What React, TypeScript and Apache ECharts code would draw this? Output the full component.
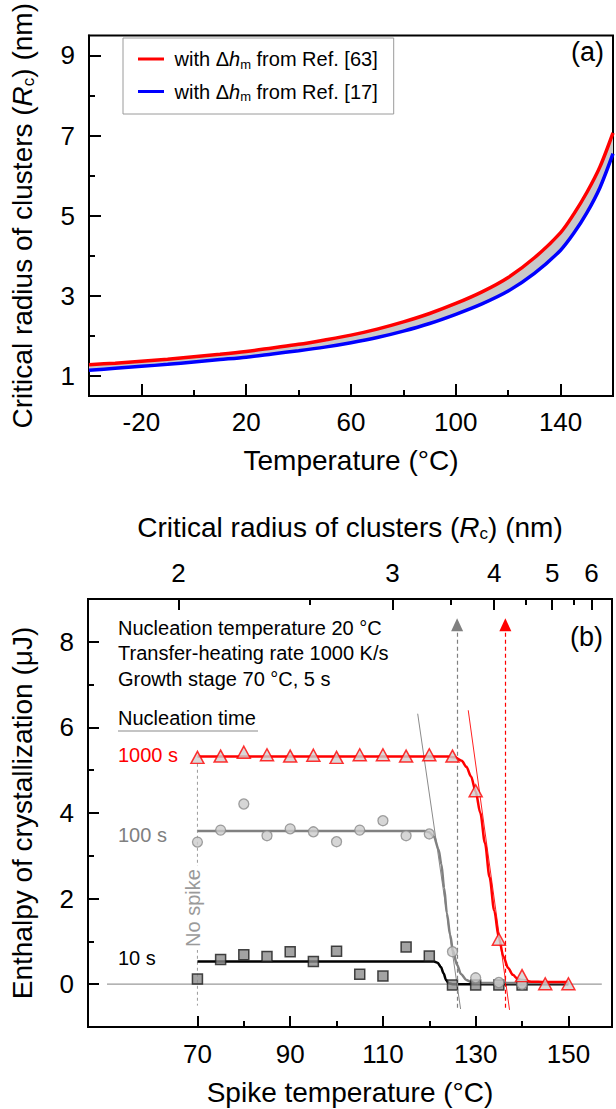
import React, { useEffect, useRef } from 'react';
import * as echarts from 'echarts';

const FONT = '"Liberation Sans", Arial, Helvetica, sans-serif';

// ---------- Panel (a): critical radius vs temperature ----------
const tempA = [-40, -30, -20, -10, 0, 10, 20, 30, 40, 50, 60, 70, 80, 90, 100, 110, 120, 130, 140, 145, 150, 155, 160];
const rcRef63 = [1.28, 1.32, 1.37, 1.42, 1.48, 1.54, 1.61, 1.70, 1.79, 1.90, 2.02, 2.17, 2.35, 2.56, 2.81, 3.10, 3.46, 3.95, 4.58, 5.04, 5.58, 6.22, 7.07];
const rcRef17 = [1.14, 1.19, 1.24, 1.29, 1.35, 1.41, 1.47, 1.55, 1.63, 1.72, 1.83, 1.96, 2.12, 2.31, 2.54, 2.80, 3.12, 3.56, 4.14, 4.56, 5.07, 5.70, 6.55];
const ticksAX = [-20, 20, 60, 100, 140];
const minorAX = [0, 40, 80, 120];
const ticksAY = [1, 3, 5, 7, 9];
const minorAY = [2, 4, 6, 8];

// ---------- Panel (b): enthalpy vs spike temperature ----------
const spikeT = [70, 75, 80, 85, 90, 95, 100, 105, 110, 115, 120, 125, 130, 135, 140, 145, 150];
const h1000s = [5.30, 5.33, 5.42, 5.36, 5.33, 5.35, 5.30, 5.36, 5.36, 5.33, 5.36, 5.33, 4.52, 1.05, 0.20, 0.01, 0.01];
const spikeT2 = [70, 75, 80, 85, 90, 95, 100, 105, 110, 115, 120, 125, 130, 135, 140];
const h100s = [3.32, 3.60, 4.21, 3.47, 3.63, 3.56, 3.33, 3.60, 3.82, 3.47, 3.51, 0.76, 0.15, 0.04, 0.0];
const h10s = [0.12, 0.58, 0.69, 0.65, 0.76, 0.53, 0.77, 0.23, 0.19, 0.87, 0.66, -0.02, -0.02, -0.02, -0.02];

const fit1000T = [70, 124, 125.5, 127, 128, 129, 130, 131, 132, 133, 134, 135, 136, 137, 138, 139, 140, 142, 145, 150];
const fit1000H = [5.32, 5.32, 5.30, 5.22, 5.08, 4.85, 4.50, 4.00, 3.30, 2.50, 1.72, 1.08, 0.64, 0.38, 0.22, 0.13, 0.09, 0.06, 0.05, 0.05];
const fit100T = [70, 119, 120, 121, 122, 122.6, 123.2, 123.8, 124.5, 125.1, 126, 126.8, 128, 129, 131, 150];
const fit100H = [3.58, 3.58, 3.55, 3.45, 3.15, 2.80, 2.25, 1.65, 1.15, 0.78, 0.45, 0.24, 0.10, 0.05, 0.03, 0.03];
const fit10T = [70, 121, 121.8, 122.5, 123.1, 123.6, 124.2, 125, 150];
const fit10H = [0.53, 0.53, 0.50, 0.40, 0.25, 0.10, 0.02, 0.0, 0.0];

const tangent100 = [[117.5, 6.32], [126.75, -0.58]];
const tangent1000 = [[128.4, 6.4], [137.3, -0.6]];
const arrowTemps = [126, 136.4];
const arrowColors = ['#808080', '#ff0000'];
const arrowFrom = -0.55;
const arrowTo = 8.4;
const noSpikeLine = [[70, 5.15], [70, -0.5]];
const baseline = [[50.5, 0], [157.2, 0]];

const ticksBX = [70, 90, 110, 130, 150];
const minorBX = [80, 100, 120, 140];
const ticksBY = [0, 2, 4, 6, 8];
const minorBY = [1, 3, 5, 7];
// top axis: critical radius labels placed at the corresponding spike temperatures
const rcTickLabels = ['2', '3', '4', '5', '6'];
const rcTickTemps = [65.9, 112.05, 134.0, 146.5, 155.0];
const rcMinorTemps = [94.25, 124.6, 140.9, 151.1];

const zip = (a: number[], b: number[]) => a.map((v, i) => [v, b[i]]);

const majorAxis = (extra: any) => ({
  type: 'value',
  axisLine: { show: true, onZero: false, lineStyle: { color: '#000', width: 2 } },
  splitLine: { show: false },
  ...extra,
});
const minorAxis = (extra: any, values: number[]) => ({
  type: 'value',
  axisLine: { show: false, onZero: false },
  splitLine: { show: false },
  axisLabel: { show: false },
  axisTick: { show: true, inside: true, length: 6, customValues: values, lineStyle: { color: '#000', width: 2 } },
  ...extra,
});

export default function App() {
  const ref = useRef<HTMLDivElement>(null);
  useEffect(() => {
    if (!ref.current) return;
    const chart = echarts.init(ref.current, null, { renderer: 'svg' });

    const legendRich = {
      n: { fontSize: 20, fontFamily: FONT, color: '#000' },
      i: { fontSize: 20, fontFamily: FONT, fontStyle: 'italic', color: '#000' },
      s: { fontSize: 13, fontFamily: FONT, color: '#000', padding: [10, 0, 0, 0] },
    };
    const mkNameStyle = (size: number) => ({
      fontSize: size, fontFamily: FONT, color: '#000',
      rich: {
        i: { fontSize: size, fontFamily: FONT, fontStyle: 'italic', color: '#000' },
        s: { fontSize: Math.round(size * 0.62), fontFamily: FONT, color: '#000', padding: [Math.round(size * 0.45), 0, 0, 0] },
      },
    });
    const tickLabel = (margin: number, values: number[]) => ({
      color: '#000', fontSize: 26, fontFamily: FONT, margin, customValues: values,
    });
    const tick = (len: number, values: number[]) => ({
      show: true, inside: true, length: len, customValues: values, lineStyle: { color: '#000', width: 2 },
    });

    const option: any = {
      animation: false,
      backgroundColor: '#fff',
      grid: [
        { left: 82, top: 15, width: 531, height: 381, show: true, borderColor: '#000', borderWidth: 2, backgroundColor: 'transparent' },
        { left: 82, top: 599, width: 530, height: 428, show: true, borderColor: '#000', borderWidth: 2, backgroundColor: 'transparent' },
      ],
      legend: {
        show: true,
        data: ['ref63', 'ref17'],
        orient: 'vertical',
        left: 123,
        top: 38,
        borderColor: '#9a9a9a',
        borderWidth: 1,
        padding: [11, 16, 11, 15],
        itemGap: 11,
        itemWidth: 26,
        itemHeight: 3,
        icon: 'rect',
        textStyle: { fontSize: 20, fontFamily: FONT, color: '#000', rich: legendRich },
        formatter: (name: string) =>
          name === 'ref63'
            ? '{n| with }{n|\u0394}{i|h}{s|m}{n| from Ref. [63]}'
            : '{n| with }{n|\u0394}{i|h}{s|m}{n| from Ref. [17]}',
      },
      xAxis: [
        majorAxis({
          gridIndex: 0, position: 'bottom', min: -40, max: 160,
          axisTick: tick(12, ticksAX), axisLabel: tickLabel(13, ticksAX),
          name: 'Temperature (\u00b0C)', nameLocation: 'middle', nameGap: 50, nameTextStyle: mkNameStyle(28),
        }),
        minorAxis({ gridIndex: 0, position: 'bottom', min: -40, max: 160 }, minorAX),
        majorAxis({
          gridIndex: 1, position: 'bottom', min: 46.4, max: 159.4,
          axisTick: tick(11, ticksBX), axisLabel: tickLabel(14, ticksBX),
          name: 'Spike temperature (\u00b0C)', nameLocation: 'middle', nameGap: 51, nameTextStyle: mkNameStyle(28),
        }),
        minorAxis({ gridIndex: 1, position: 'bottom', min: 46.4, max: 159.4 }, minorBX),
        majorAxis({
          gridIndex: 1, position: 'top', min: 46.4, max: 159.4,
          axisTick: tick(11, rcTickTemps),
          axisLabel: {
            ...tickLabel(13, rcTickTemps),
            formatter: (v: number) => {
              const i = rcTickTemps.findIndex((t) => Math.abs(t - v) < 1e-6);
              return i >= 0 ? rcTickLabels[i] : '';
            },
          },
          name: 'Critical radius of clusters ({i|R}{s|c}) (nm)', nameLocation: 'middle', nameGap: 57, nameTextStyle: mkNameStyle(28),
        }),
        minorAxis({ gridIndex: 1, position: 'top', min: 46.4, max: 159.4 }, rcMinorTemps),
      ],
      yAxis: [
        majorAxis({
          gridIndex: 0, position: 'left', min: 0.5, max: 9.5,
          axisTick: tick(12, ticksAY), axisLabel: tickLabel(14, ticksAY),
          name: 'Critical radius of clusters ({i|R}{s|c}) (nm)', nameLocation: 'middle', nameGap: 52, nameRotate: 90, nameTextStyle: mkNameStyle(28),
        }),
        minorAxis({ gridIndex: 0, position: 'left', min: 0.5, max: 9.5 }, minorAY),
        majorAxis({
          gridIndex: 1, position: 'left', min: -1, max: 9,
          axisTick: tick(11, ticksBY), axisLabel: tickLabel(14, ticksBY),
          name: 'Enthalpy of crystallization (\u03bcJ)', nameLocation: 'middle', nameGap: 52, nameRotate: 90, nameTextStyle: mkNameStyle(28),
        }),
        minorAxis({ gridIndex: 1, position: 'left', min: -1, max: 9 }, minorBY),
      ],
      series: [
        // ---- panel (a): grey band between the two curves
        {
          name: 'band', type: 'custom', xAxisIndex: 0, yAxisIndex: 0, silent: true, z: 1, clip: true,
          data: [[tempA[0], rcRef63[0]]],
          renderItem: (_params: any, api: any) => {
            const top = tempA.map((t, i) => api.coord([t, rcRef63[i]]));
            const bottom = tempA.map((t, i) => api.coord([t, rcRef17[i]])).reverse();
            return { type: 'polygon', shape: { points: top.concat(bottom) }, style: { fill: '#c9c9c9' } };
          },
        },
        {
          name: 'ref63', type: 'line', xAxisIndex: 0, yAxisIndex: 0, smooth: 0.3, data: zip(tempA, rcRef63),
          showSymbol: false, color: '#ff0000', lineStyle: { color: '#ff0000', width: 3.5 }, z: 3,
        },
        {
          name: 'ref17', type: 'line', xAxisIndex: 0, yAxisIndex: 0, smooth: 0.3, data: zip(tempA, rcRef17),
          showSymbol: false, color: '#0000ff', lineStyle: { color: '#0000ff', width: 3.5 }, z: 3,
        },
        // ---- panel (b) guides
        {
          name: 'baseline', type: 'line', xAxisIndex: 2, yAxisIndex: 2, data: baseline, showSymbol: false,
          lineStyle: { color: '#9a9a9a', width: 1.2 }, silent: true, z: 1,
        },
        {
          name: 'noSpike', type: 'line', xAxisIndex: 2, yAxisIndex: 2, data: noSpikeLine, showSymbol: false,
          lineStyle: { color: '#9a9a9a', width: 1, type: [3, 3] }, silent: true, z: 1,
        },
        {
          name: 'tan100', type: 'line', xAxisIndex: 2, yAxisIndex: 2, data: tangent100, showSymbol: false,
          lineStyle: { color: '#8a8a8a', width: 1 }, silent: true, z: 1,
        },
        {
          name: 'tan1000', type: 'line', xAxisIndex: 2, yAxisIndex: 2, data: tangent1000, showSymbol: false,
          lineStyle: { color: '#ff2020', width: 1 }, silent: true, z: 1,
        },
        {
          name: 'arrows', type: 'line', xAxisIndex: 2, yAxisIndex: 2, data: [], silent: true, z: 1,
          markLine: {
            silent: true,
            symbol: ['none', 'triangle'],
            symbolSize: [12, 13],
            label: { show: false },
            data: arrowTemps.map((t, i) => [
              { coord: [t, arrowFrom], lineStyle: { color: arrowColors[i], width: 1.2, type: [4, 3] }, itemStyle: { color: arrowColors[i] } },
              { coord: [t, arrowTo] },
            ]),
          },
        },
        // ---- panel (b) fits
        {
          name: 'fit10', type: 'line', xAxisIndex: 2, yAxisIndex: 2, smooth: 0.3, smoothMonotone: 'x',
          data: zip(fit10T, fit10H), showSymbol: false, lineStyle: { color: '#000', width: 2.5 }, z: 2,
        },
        {
          name: 'fit100', type: 'line', xAxisIndex: 2, yAxisIndex: 2, smooth: 0.3, smoothMonotone: 'x',
          data: zip(fit100T, fit100H), showSymbol: false, lineStyle: { color: '#808080', width: 2.5 }, z: 2,
        },
        {
          name: 'fit1000', type: 'line', xAxisIndex: 2, yAxisIndex: 2, smooth: 0.3, smoothMonotone: 'x',
          data: zip(fit1000T, fit1000H), showSymbol: false, lineStyle: { color: '#ff0000', width: 2.5 }, z: 2,
        },
        // ---- panel (b) measurements
        {
          name: '10 s', type: 'scatter', xAxisIndex: 2, yAxisIndex: 2, data: zip(spikeT2, h10s),
          symbol: 'rect', symbolSize: 10, itemStyle: { color: '#8c8c8c', borderColor: '#1a1a1a', borderWidth: 1.5 }, z: 4,
        },
        {
          name: '100 s', type: 'scatter', xAxisIndex: 2, yAxisIndex: 2, data: zip(spikeT2, h100s),
          symbol: 'circle', symbolSize: 10, itemStyle: { color: '#cccccc', borderColor: '#8a8a8a', borderWidth: 1.3 }, z: 5,
        },
        {
          name: '1000 s', type: 'scatter', xAxisIndex: 2, yAxisIndex: 2, data: zip(spikeT, h1000s),
          symbol: 'triangle', symbolSize: [13, 12], itemStyle: { color: '#cfcfcf', borderColor: '#ff0000', borderWidth: 1.5 }, z: 6,
        },
      ],
      graphic: [
        { type: 'text', x: 604, y: 52, z: 100, style: { text: '(a)', fill: '#000', font: `27px ${FONT}`, align: 'right', verticalAlign: 'middle', textAlign: 'right', textVerticalAlign: 'middle' } },
        { type: 'text', x: 603, y: 637, z: 100, style: { text: '(b)', fill: '#000', font: `27px ${FONT}`, align: 'right', verticalAlign: 'middle', textAlign: 'right', textVerticalAlign: 'middle' } },
        { type: 'text', x: 118, y: 628, z: 100, style: { text: 'Nucleation temperature 20 \u00b0C', fill: '#000', font: `20px ${FONT}`, verticalAlign: 'middle', textVerticalAlign: 'middle' } },
        { type: 'text', x: 118, y: 653, z: 100, style: { text: 'Transfer-heating rate 1000 K/s', fill: '#000', font: `20px ${FONT}`, verticalAlign: 'middle', textVerticalAlign: 'middle' } },
        { type: 'text', x: 118, y: 679, z: 100, style: { text: 'Growth stage 70 \u00b0C, 5 s', fill: '#000', font: `20px ${FONT}`, verticalAlign: 'middle', textVerticalAlign: 'middle' } },
        { type: 'text', x: 118, y: 718, z: 100, style: { text: 'Nucleation time', fill: '#000', font: `20px ${FONT}`, verticalAlign: 'middle', textVerticalAlign: 'middle' } },
        { type: 'line', z: 100, shape: { x1: 118, y1: 731, x2: 258, y2: 731 }, style: { stroke: '#8a8a8a', lineWidth: 1.2 } },
        { type: 'text', x: 118, y: 755, z: 100, style: { text: '1000 s', fill: '#ff0000', font: `20px ${FONT}`, verticalAlign: 'middle', textVerticalAlign: 'middle' } },
        { type: 'text', x: 118, y: 835, z: 100, style: { text: '100 s', fill: '#808080', font: `20px ${FONT}`, verticalAlign: 'middle', textVerticalAlign: 'middle' } },
        { type: 'text', x: 118, y: 958, z: 100, style: { text: '10 s', fill: '#000', font: `20px ${FONT}`, verticalAlign: 'middle', textVerticalAlign: 'middle' } },
        {
          type: 'text', x: 193, y: 908, rotation: Math.PI / 2, z: 100,
          style: { text: 'No spike', fill: '#9a9a9a', font: `20px ${FONT}`, align: 'center', verticalAlign: 'middle', textAlign: 'center', textVerticalAlign: 'middle', backgroundColor: '#fff', padding: [0, 3] },
        },
      ],
    };
    chart.setOption(option);
    return () => chart.dispose();
  }, []);
  return <div ref={ref} style={{ position: 'absolute', left: 0, top: 0, width: 616, height: 1109 }} />;
}
